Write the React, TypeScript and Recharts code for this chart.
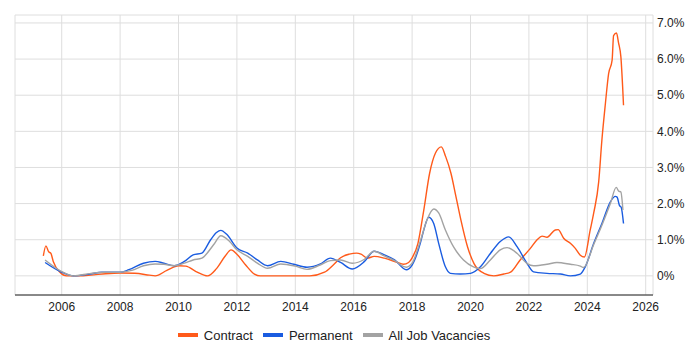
import { LineChart, Line, XAxis, YAxis, CartesianGrid, Legend } from "recharts";

// [year, % of vacancies]
const contract: [number, number][] = [
  [2005.37, 0.55], [2005.46, 0.83], [2005.55, 0.67], [2005.63, 0.62], [2005.71, 0.4],
  [2005.94, 0.1], [2006.17, 0.0], [2006.6, 0.0], [2007.0, 0.02], [2007.5, 0.06],
  [2008.0, 0.08], [2008.5, 0.07], [2009.0, 0.02], [2009.2, 0.0], [2009.6, 0.15],
  [2010.0, 0.28], [2010.25, 0.27], [2010.6, 0.12], [2011.0, 0.0], [2011.3, 0.2],
  [2011.6, 0.55], [2011.8, 0.72], [2012.0, 0.6], [2012.3, 0.3], [2012.6, 0.05],
  [2012.8, 0.0], [2014.5, 0.0], [2015.0, 0.1], [2015.3, 0.3], [2015.55, 0.5],
  [2015.85, 0.6], [2016.1, 0.63], [2016.25, 0.6], [2016.47, 0.49], [2016.7, 0.54],
  [2017.05, 0.49], [2017.5, 0.37], [2017.7, 0.32], [2017.88, 0.37], [2018.0, 0.5],
  [2018.2, 0.9], [2018.4, 1.82], [2018.6, 2.84], [2018.8, 3.4], [2019.0, 3.57],
  [2019.15, 3.3], [2019.33, 2.84], [2019.5, 2.2], [2019.67, 1.55], [2019.9, 0.8],
  [2020.12, 0.34], [2020.46, 0.07], [2020.8, 0.0], [2021.14, 0.05], [2021.37, 0.1],
  [2021.7, 0.44], [2022.05, 0.76], [2022.28, 1.0], [2022.45, 1.1], [2022.62, 1.07],
  [2022.9, 1.27], [2023.0, 1.28], [2023.19, 1.04], [2023.42, 0.9], [2023.59, 0.76],
  [2023.76, 0.57], [2023.9, 0.52], [2024.1, 1.27], [2024.22, 1.74], [2024.39, 2.6],
  [2024.5, 3.76], [2024.62, 4.77], [2024.73, 5.6], [2024.85, 5.97], [2024.9, 6.65],
  [2025.0, 6.72], [2025.07, 6.45], [2025.15, 6.06], [2025.21, 5.23], [2025.24, 4.72],
];

const permanent: [number, number][] = [
  [2005.43, 0.37], [2006.0, 0.1], [2006.4, 0.0], [2006.97, 0.05], [2007.37, 0.1],
  [2008.0, 0.1], [2008.3, 0.17], [2008.8, 0.35], [2009.2, 0.4], [2009.5, 0.35],
  [2009.85, 0.28], [2010.2, 0.4], [2010.5, 0.58], [2010.8, 0.63], [2011.1, 1.0],
  [2011.3, 1.2], [2011.45, 1.26], [2011.65, 1.15], [2012.0, 0.77], [2012.37, 0.63],
  [2012.7, 0.44], [2013.05, 0.28], [2013.5, 0.4], [2013.95, 0.32], [2014.4, 0.24],
  [2014.86, 0.33], [2015.2, 0.49], [2015.55, 0.37], [2015.95, 0.19], [2016.37, 0.4],
  [2016.7, 0.68], [2017.05, 0.58], [2017.4, 0.44], [2017.8, 0.17], [2018.0, 0.3],
  [2018.28, 0.9], [2018.4, 1.27], [2018.57, 1.62], [2018.74, 1.45], [2018.91, 0.9],
  [2019.14, 0.25], [2019.31, 0.07], [2019.65, 0.05], [2020.0, 0.07], [2020.34, 0.25],
  [2020.68, 0.62], [2021.02, 0.95], [2021.31, 1.08], [2021.6, 0.8], [2021.94, 0.34],
  [2022.16, 0.11], [2022.62, 0.07], [2023.08, 0.05], [2023.42, 0.0], [2023.76, 0.05],
  [2023.93, 0.25], [2024.22, 0.9], [2024.5, 1.45], [2024.79, 2.05], [2024.96, 2.2],
  [2025.02, 2.18], [2025.1, 1.95], [2025.16, 1.9], [2025.24, 1.45],
];

const allJobs: [number, number][] = [
  [2005.43, 0.44], [2006.0, 0.12], [2006.4, 0.0], [2007.0, 0.07], [2007.5, 0.1],
  [2008.0, 0.1], [2008.4, 0.15], [2008.8, 0.28], [2009.2, 0.33], [2009.5, 0.32],
  [2009.85, 0.28], [2010.2, 0.35], [2010.5, 0.44], [2010.8, 0.49], [2011.2, 0.86],
  [2011.45, 1.11], [2011.75, 0.95], [2012.0, 0.72], [2012.37, 0.54], [2012.7, 0.35],
  [2013.05, 0.21], [2013.5, 0.33], [2014.0, 0.27], [2014.4, 0.18], [2014.85, 0.3],
  [2015.2, 0.42], [2015.55, 0.44], [2015.95, 0.35], [2016.37, 0.46], [2016.7, 0.68],
  [2017.05, 0.55], [2017.4, 0.42], [2017.8, 0.24], [2018.0, 0.35], [2018.28, 0.96],
  [2018.51, 1.55], [2018.74, 1.85], [2018.91, 1.74], [2019.14, 1.27], [2019.42, 0.8],
  [2019.76, 0.44], [2020.1, 0.25], [2020.34, 0.2], [2020.68, 0.44], [2021.02, 0.72],
  [2021.25, 0.78], [2021.6, 0.62], [2021.94, 0.34], [2022.16, 0.28], [2022.62, 0.32],
  [2022.96, 0.37], [2023.42, 0.32], [2023.76, 0.27], [2023.87, 0.23], [2024.22, 0.87],
  [2024.5, 1.4], [2024.79, 2.0], [2024.99, 2.45], [2025.07, 2.35], [2025.15, 2.32],
  [2025.22, 1.82],
];

const yearTicks = [2006, 2008, 2010, 2012, 2014, 2016, 2018, 2020, 2022, 2024, 2026];
const pctTicks = [0, 1, 2, 3, 4, 5, 6, 7];

const series = [
  { name: "Contract", color: "#ff5a1a", points: contract },
  { name: "Permanent", color: "#1a5ce0", points: permanent },
  { name: "All Job Vacancies", color: "#a3a3a3", points: allJobs },
];

const font = "Arial, 'Liberation Sans', sans-serif";

function LegendContent() {
  return (
    <div
      style={{
        display: "flex",
        justifyContent: "center",
        alignItems: "center",
        gap: 10,
        height: 30,
        fontFamily: font,
        fontSize: 13,
        color: "#222",
      }}
    >
      {series.map((s) => (
        <div key={s.name} style={{ display: "flex", alignItems: "center" }}>
          <span style={{ display: "inline-block", width: 20, height: 4, background: s.color, marginRight: 6 }} />
          <span>{s.name}</span>
        </div>
      ))}
    </div>
  );
}

export default function App() {
  return (
    <div style={{ width: 692, height: 342 }}>
      <LineChart width={692} height={342} margin={{ top: 7, right: 0, left: 7, bottom: 0 }}>
        <CartesianGrid stroke="#dedede" />
        <XAxis
          type="number"
          dataKey="x"
          domain={[2004.4, 2026.25]}
          ticks={yearTicks}
          allowDataOverflow
          height={25}
          stroke="#222"
          tickSize={5}
          tickMargin={2}
          tickLine={false}
          tick={{ fill: "#222", fontSize: 12, fontFamily: font }}
        />
        <YAxis
          orientation="right"
          type="number"
          domain={[-0.53, 7.22]}
          ticks={pctTicks}
          allowDataOverflow
          width={47}
          axisLine={false}
          tickLine={false}
          tickSize={0}
          tickMargin={4}
          tickFormatter={(v: number) => (v === 0 ? "0%" : v.toFixed(1) + "%")}
          tick={{ fill: "#222", fontSize: 12, fontFamily: font, textAnchor: "start" }}
        />
        {series.map((s) => (
          <Line
            key={s.name}
            name={s.name}
            data={s.points.map(([x, y]) => ({ x, y }))}
            dataKey="y"
            type="monotone"
            stroke={s.color}
            strokeWidth={1.4}
            dot={false}
            isAnimationActive={false}
          />
        ))}
        <Legend
          verticalAlign="bottom"
          height={30}
          wrapperStyle={{ left: 7, width: 638 }}
          content={() => <LegendContent />}
        />
      </LineChart>
    </div>
  );
}
